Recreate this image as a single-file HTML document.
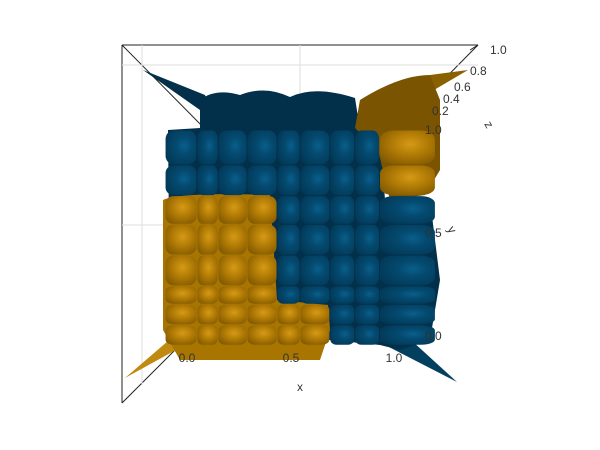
<!DOCTYPE html>
<html><head><meta charset="utf-8"><style>
html,body{margin:0;padding:0;background:#fff;}
svg{display:block;font-family:"Liberation Sans",sans-serif;}
</style></head><body>
<svg id="c" width="600" height="450" viewBox="0 0 600 450">
<defs>
<radialGradient id="gb" cx="0.6" cy="0.45" r="0.75"><stop offset="0" stop-color="#0a5f8c"/><stop offset="0.35" stop-color="#044a70"/><stop offset="1" stop-color="#023552"/></radialGradient>
<radialGradient id="go" cx="0.55" cy="0.4" r="0.75"><stop offset="0" stop-color="#d59a15"/><stop offset="0.45" stop-color="#b07a05"/><stop offset="1" stop-color="#7a5400"/></radialGradient>
</defs>
<g stroke="#ddd" stroke-width="1" fill="none">
<line x1="122" y1="45" x2="478" y2="45" stroke="#222"/>
<line x1="122" y1="45" x2="122" y2="403" stroke="#222"/>
<line x1="122" y1="45" x2="300" y2="225" stroke="#222"/>
<line x1="122" y1="403" x2="300" y2="225" stroke="#222"/>
<line x1="478" y1="45" x2="300" y2="225" stroke="#222"/>
<line x1="300" y1="45" x2="300" y2="225"/>
<line x1="122" y1="225" x2="300" y2="225"/>
<line x1="122" y1="65" x2="478" y2="65"/>
<line x1="142" y1="45" x2="142" y2="385"/>
</g>
<g id="surf">
<polygon points="143,70 205,95 220,135 200,110" fill="#02304a"/>
<polygon points="457,382 400,330 385,345" fill="#03405f"/>
<polygon points="125,378 175,335 185,345" fill="#c08a10"/>
<polygon points="468,70 400,110 380,90 430,75" fill="#8a6000"/>
<path d="M200,100 Q215,88 240,95 Q265,85 290,97 Q315,85 355,98 L360,130 L380,132 L385,200 L430,200 L440,280 L430,340 L400,350 L380,345 L330,340 L170,330 L168,130 L200,128 Z" fill="#02304a"/>
<path d="M355,128 L360,100 Q400,75 430,75 L440,100 L440,170 L425,195 L390,200 L378,150 Z" fill="#7a5400"/>
<path d="M163,200 Q180,192 270,195 L277,300 L328,305 L330,330 L320,360 L180,360 L163,330 Z" fill="#a87500"/>
<g id="cells"></g>
</g>
<g font-size="12" fill="#333">
<text x="187" y="362" text-anchor="middle">0.0</text>
<text x="291" y="362" text-anchor="middle">0.5</text>
<text x="394" y="362" text-anchor="middle">1.0</text>
<text x="300" y="391" text-anchor="middle">x</text>
</g>
<g font-size="12" fill="#333">
<text x="425" y="340">0.0</text>
<text x="425" y="237">0.5</text>
<text x="425" y="134">1.0</text>
<text x="447" y="229" transform="rotate(60 447 229)">y</text>
</g>
<g font-size="12" fill="#333">
<line x1="470" y1="50" x2="478" y2="45" stroke="#222"/>
<text x="490" y="54">1.0</text>
<text x="470" y="75">0.8</text>
<text x="454" y="91">0.6</text>
<text x="443" y="103">0.4</text>
<text x="432" y="115">0.2</text>
<text x="484" y="124" transform="rotate(60 484 124)">z</text>
</g>
</svg>
<script>
const colEdges=[-0.106,0.048,0.15,0.29,0.435,0.546,0.69,0.81,0.93,1.2];
const rowEdges=[1.0,0.83,0.68,0.54,0.39,0.24,0.15,0.05,-0.05];
// 1 = orange (high z), 0 = blue
const cellColor=[
 [0,0,0,0,0,0,0,0,1],
 [0,0,0,0,0,0,0,0,1],
 [1,1,1,1,0,0,0,0,0],
 [1,1,1,1,0,0,0,0,0],
 [1,1,1,1,0,0,0,0,0],
 [1,1,1,1,0,0,0,0,0],
 [1,1,1,1,1,1,0,0,0],
 [1,1,1,1,1,1,0,0,0]];
const sx=v=>187+v*207, sy=v=>335-v*205;
const g=document.getElementById('cells');
const ns='http://www.w3.org/2000/svg';
for(let r=0;r<rowEdges.length-1;r++)for(let c=0;c<colEdges.length-1;c++){
 const x0=sx(colEdges[c]),x1=sx(colEdges[c+1]),y0=sy(rowEdges[r]),y1=sy(rowEdges[r+1]);
 const o=cellColor[r][c];
 const e=document.createElementNS(ns,'rect');
 
 
 e.setAttribute('x',x0+0.5);e.setAttribute('y',y0+0.5);
 e.setAttribute('width',x1-x0-1);e.setAttribute('height',y1-y0-1);
 e.setAttribute('rx',(x1-x0)/4);e.setAttribute('ry',(y1-y0)/4);
 e.setAttribute('fill',o?'url(#go)':'url(#gb)');
 g.appendChild(e);
}
</script>
</body></html>
